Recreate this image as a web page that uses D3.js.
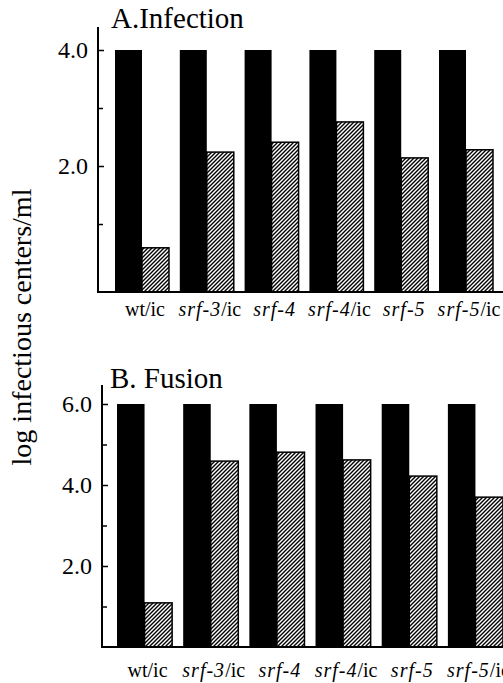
<!DOCTYPE html>
<html>
<head>
<meta charset="utf-8">
<script src="https://cdn.jsdelivr.net/npm/d3@7"></script>
<style>
  html, body { margin: 0; padding: 0; background: #fff; }
  svg { display: block; }
  text { font-family: "Liberation Serif", "Times New Roman", serif; fill: #000; }
</style>
</head>
<body>
<svg id="chart" width="503" height="683"></svg>
<script>
// ---- data ----
const categories = [
  { italic: "", roman: "wt/ic" },
  { italic: "srf-3", roman: "/ic" },
  { italic: "srf-4", roman: "" },
  { italic: "srf-4", roman: "/ic" },
  { italic: "srf-5", roman: "" },
  { italic: "srf-5", roman: "/ic" }
];
const categoryKeys = ["wt/ic", "srf-3/ic", "srf-4", "srf-4/ic", "srf-5", "srf-5/ic"];
const seriesKeys = ["control", "treated"];

const infectionControl = [4.0, 4.0, 4.0, 4.0, 4.0, 4.0];
const infectionTreated = [0.59, 2.24, 2.41, 2.76, 2.14, 2.28];

const fusionControl = [6.0, 6.0, 6.0, 6.0, 6.0, 6.0];
const fusionTreated = [1.09, 4.59, 4.81, 4.62, 4.22, 3.70];

const infectionMajorTicks = [2.0, 4.0];
const infectionMinorTicks = [1.0, 3.0];
const fusionMajorTicks = [2.0, 4.0, 6.0];
const fusionMinorTicks = [1.0, 3.0, 5.0];

const panelTitles = ["A.Infection", "B. Fusion"];
const yAxisLabel = "log infectious centers/ml";

// ---- drawing ----
const svg = d3.select("#chart");
const defs = svg.append("defs");
const pat = defs.append("pattern")
  .attr("id", "hatch")
  .attr("patternUnits", "userSpaceOnUse")
  .attr("width", 4).attr("height", 4);
pat.append("rect").attr("width", 4).attr("height", 4).attr("fill", "#fff");
pat.append("path")
  .attr("d", "M-1,1 l2,-2 M0,4 l4,-4 M3,5 l2,-2")
  .attr("stroke", "#000").attr("stroke-width", 1.4);

function drawPanel(cfg) {
  const g = svg.append("g");
  const x = d3.scaleBand().domain(categoryKeys)
    .range(cfg.xRange).paddingInner(cfg.padInner).paddingOuter(0);
  const xs = d3.scaleBand().domain(seriesKeys).range([0, x.bandwidth()]).padding(0);
  const y = d3.scaleLinear().domain(cfg.yDomain).range(cfg.yRange);

  // bars
  categoryKeys.forEach((c, i) => {
    const vals = [cfg.control[i], cfg.treated[i]];
    seriesKeys.forEach((s, j) => {
      const v = vals[j];
      g.append("rect")
        .attr("x", x(c) + xs(s))
        .attr("y", y(v))
        .attr("width", xs.bandwidth())
        .attr("height", y(cfg.yDomain[0]) - y(v))
        .attr("fill", j === 0 ? "#000" : "url(#hatch)")
        .attr("stroke", "#000")
        .attr("stroke-width", j === 0 ? 0 : 1.5);
    });
  });

  // y axis (major ticks, labeled, inward)
  const axisMajor = d3.axisLeft(y).tickValues(cfg.major)
    .tickFormat(d3.format(".1f")).tickSizeInner(-6).tickSizeOuter(0).tickPadding(10);
  const ga = g.append("g").attr("transform", `translate(${cfg.axisX},0)`).call(axisMajor);
  ga.select(".domain").remove();
  ga.selectAll("line").attr("stroke", "#000").attr("stroke-width", 1.5);
  ga.selectAll("text").style("font-family", '"Liberation Serif", serif')
    .style("font-size", "24px").attr("fill", "#000");

  const axisMinor = d3.axisLeft(y).tickValues(cfg.minor)
    .tickFormat("").tickSizeInner(-5).tickSizeOuter(0);
  const gm = g.append("g").attr("transform", `translate(${cfg.axisX},0)`).call(axisMinor);
  gm.select(".domain").remove();
  gm.selectAll("line").attr("stroke", "#000").attr("stroke-width", 1.5);

  // axis lines
  g.append("line").attr("x1", cfg.axisX).attr("x2", cfg.axisX)
    .attr("y1", cfg.axisTop).attr("y2", y(cfg.yDomain[0]))
    .attr("stroke", "#000").attr("stroke-width", 2);
  g.append("line").attr("x1", cfg.axisX - 1).attr("x2", 503)
    .attr("y1", y(cfg.yDomain[0])).attr("y2", y(cfg.yDomain[0]))
    .attr("stroke", "#000").attr("stroke-width", 2);

  // category labels
  categories.forEach((c, i) => {
    const t = g.append("text")
      .attr("x", x(categoryKeys[i]) + x.bandwidth() / 2 + cfg.labelShift)
      .attr("y", cfg.labelY)
      .attr("text-anchor", "middle")
      .style("font-size", "20px");
    if (c.italic) t.append("tspan").style("font-style", "italic")
      .style("letter-spacing", "1px").text(c.italic);
    if (c.roman) t.append("tspan").text(c.roman);
  });

  // title
  g.append("text").attr("x", cfg.titleX).attr("y", cfg.titleY)
    .style("font-size", "29px").text(cfg.title);
}

drawPanel({
  xRange: [115, 493], padInner: 0.167,
  yDomain: [-0.172, 4.0], yRange: [292, 50],
  axisX: 98, axisTop: 27,
  control: infectionControl, treated: infectionTreated,
  major: infectionMajorTicks, minor: infectionMinorTicks,
  labelY: 316, labelShift: 3,
  title: panelTitles[0], titleX: 111, titleY: 28
});

drawPanel({
  xRange: [117, 503], padInner: 0.167,
  yDomain: [0, 6.0], yRange: [647, 404],
  axisX: 102, axisTop: 385,
  control: fusionControl, treated: fusionTreated,
  major: fusionMajorTicks, minor: fusionMinorTicks,
  labelY: 677, labelShift: 3,
  title: panelTitles[1], titleX: 110, titleY: 388
});

svg.append("text")
  .attr("transform", "translate(31,327) rotate(-90)")
  .attr("text-anchor", "middle")
  .style("font-size", "28px")
  .text(yAxisLabel);
</script>
</body>
</html>
